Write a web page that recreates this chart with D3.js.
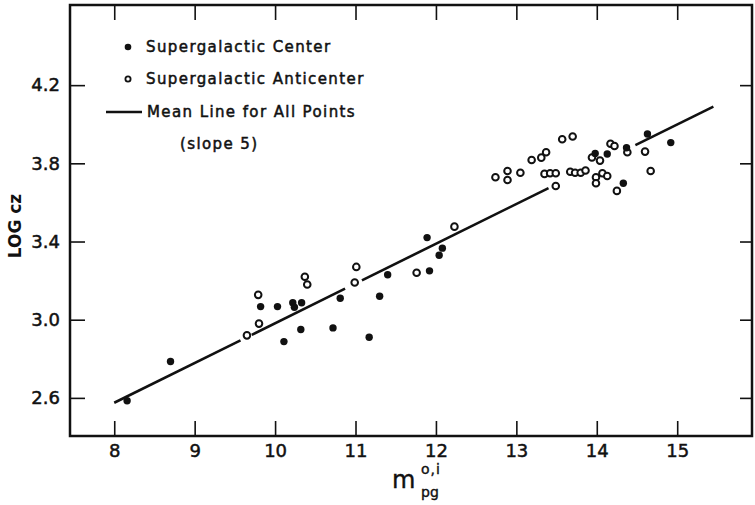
<!DOCTYPE html>
<html>
<head>
<meta charset="utf-8">
<script src="https://cdn.jsdelivr.net/npm/d3@7"></script>
<style>
  body { margin: 0; background: #fff; }
  svg { display: block; font-family: "DejaVu Sans", sans-serif; }
</style>
</head>
<body>
<div class="chart"></div>
<script>
// filled dots - supergalactic center  [m, log cz]
const centerPts = [
  [8.16, 2.585], [8.70, 2.786], [9.82, 3.067], [10.03, 3.067], [10.11, 2.888],
  [10.22, 3.087], [10.24, 3.064], [10.33, 3.087], [10.32, 2.95], [10.72, 2.958],
  [10.81, 3.11], [11.17, 2.91], [11.30, 3.12], [11.40, 3.23], [11.89, 3.42],
  [11.92, 3.25], [12.04, 3.33], [12.08, 3.366], [13.98, 3.85], [14.13, 3.848],
  [14.33, 3.698], [14.37, 3.88], [14.63, 3.95], [14.92, 3.906]
];
// open dots - supergalactic anticenter
const anticenterPts = [
  [9.65, 2.92], [9.79, 3.127], [9.80, 2.98], [10.37, 3.22], [10.40, 3.18],
  [10.99, 3.19], [11.01, 3.27], [11.76, 3.24], [12.23, 3.476],
  [12.74, 3.729], [12.89, 3.761], [12.89, 3.715], [13.05, 3.752], [13.19, 3.817],
  [13.31, 3.829], [13.37, 3.857], [13.57, 3.923], [13.70, 3.937], [13.35, 3.746],
  [13.42, 3.749], [13.49, 3.749], [13.49, 3.684], [13.67, 3.757], [13.73, 3.752],
  [13.80, 3.752], [13.86, 3.763], [13.94, 3.83], [14.04, 3.814], [14.17, 3.90],
  [14.22, 3.889], [14.38, 3.857], [13.99, 3.729], [13.99, 3.698], [14.07, 3.749],
  [14.13, 3.735], [14.25, 3.659], [14.60, 3.86], [14.67, 3.761]
];
// mean line (slope 5) end points and the breaks drawn in it
const meanLine = [[8.0, 2.575], [15.45, 4.09]];
const lineGaps = [[9.57, 9.71], [10.87, 11.08], [13.40, 14.48]];

const xTicks = [8, 9, 10, 11, 12, 13, 14, 15];
const yTicks = [2.6, 3.0, 3.4, 3.8, 4.2];

const width = 755, height = 505;
const frame = {left: 70, right: 752, top: 5, bottom: 436};

const x = d3.scaleLinear().domain([7.45, 15.93]).range([frame.left, frame.right]);
const y = d3.scaleLinear().domain([2.405, 4.61]).range([frame.bottom, frame.top]);

const svg = d3.select(".chart").append("svg")
    .attr("width", width)
    .attr("height", height)
    .attr("viewBox", [0, 0, width, height]);

const ink = "#111";

function styleAxis(g, size) {
  g.select(".domain").remove();
  g.selectAll(".tick line").attr("stroke", ink).attr("stroke-width", 1.6);
  g.selectAll(".tick text").attr("fill", ink).attr("font-size", size)
    .attr("font-family", "DejaVu Sans, sans-serif")
    .attr("stroke", ink).attr("stroke-width", 0.5);
}

// bottom
svg.append("g")
    .attr("transform", `translate(0,${frame.bottom})`)
    .call(d3.axisBottom(x).tickValues(xTicks).tickSizeInner(-15).tickSizeOuter(0)
      .tickPadding(8).tickFormat(d3.format("d")))
    .call(g => styleAxis(g, 18));
// top
svg.append("g")
    .attr("transform", `translate(0,${frame.top})`)
    .call(d3.axisTop(x).tickValues(xTicks).tickSizeInner(-15).tickSizeOuter(0).tickFormat(""))
    .call(g => styleAxis(g, 18));
// left
svg.append("g")
    .attr("transform", `translate(${frame.left},0)`)
    .call(d3.axisLeft(y).tickValues(yTicks).tickSizeInner(-15).tickSizeOuter(0)
      .tickPadding(10).tickFormat(d3.format(".1f")))
    .call(g => styleAxis(g, 18));
// right
svg.append("g")
    .attr("transform", `translate(${frame.right},0)`)
    .call(d3.axisRight(y).tickValues(yTicks).tickSizeInner(-12).tickSizeOuter(0).tickFormat(""))
    .call(g => styleAxis(g, 18));

svg.append("rect")
    .attr("x", frame.left).attr("y", frame.top)
    .attr("width", frame.right - frame.left)
    .attr("height", frame.bottom - frame.top)
    .attr("fill", "none")
    .attr("stroke", ink)
    .attr("stroke-width", 2.5);

// axis titles
svg.append("text")
    .attr("transform", "translate(21,226) rotate(-90)")
    .attr("text-anchor", "middle")
    .attr("font-size", 17)
    .attr("font-weight", "bold")
    .attr("fill", ink)
    .text("LOG cz");

const xt = svg.append("g").attr("fill", ink).attr("stroke", ink).attr("stroke-width", 0.4);
xt.append("text").attr("x", 392).attr("y", 488).attr("font-size", 24).text("m");
xt.append("text").attr("x", 421).attr("y", 474).attr("font-size", 14).attr("letter-spacing", 1).text("o,i");
xt.append("text").attr("x", 421).attr("y", 497).attr("font-size", 14).text("pg");

// mean line, broken into pieces
const lineFn = d3.line().x(d => x(d[0])).y(d => y(d[1]));
const slope = (meanLine[1][1] - meanLine[0][1]) / (meanLine[1][0] - meanLine[0][0]);
const at = m => [m, meanLine[0][1] + slope * (m - meanLine[0][0])];
const cuts = [meanLine[0][0], ...lineGaps.flat(), meanLine[1][0]];
const pieces = d3.range(0, cuts.length, 2).map(i => [at(cuts[i]), at(cuts[i + 1])]);

svg.append("g")
    .selectAll("path")
    .data(pieces)
    .join("path")
    .attr("d", lineFn)
    .attr("fill", "none")
    .attr("stroke", ink)
    .attr("stroke-width", 2.6)
    .attr("stroke-linecap", "butt");

// points
svg.append("g")
    .selectAll("circle")
    .data(anticenterPts)
    .join("circle")
    .attr("cx", d => x(d[0]))
    .attr("cy", d => y(d[1]))
    .attr("r", 3.3)
    .attr("fill", "#fff")
    .attr("stroke", ink)
    .attr("stroke-width", 2);

svg.append("g")
    .selectAll("circle")
    .data(centerPts)
    .join("circle")
    .attr("cx", d => x(d[0]))
    .attr("cy", d => y(d[1]))
    .attr("r", 3.7)
    .attr("fill", ink);

// legend
const lg = svg.append("g")
    .attr("fill", ink)
    .attr("font-size", 15)
    .attr("letter-spacing", 1.4);

lg.append("circle").attr("cx", 128).attr("cy", 47).attr("r", 3.3).attr("fill", ink);
lg.append("circle").attr("cx", 128).attr("cy", 79).attr("r", 2.6)
    .attr("fill", "#fff").attr("stroke", ink).attr("stroke-width", 1.8);
lg.append("line").attr("x1", 106).attr("x2", 142).attr("y1", 112).attr("y2", 112)
    .attr("stroke", ink).attr("stroke-width", 2.4);

const lt = lg.append("g").attr("stroke", ink).attr("stroke-width", 0.5);
lt.append("text").attr("x", 146).attr("y", 52).text("Supergalactic Center");
lt.append("text").attr("x", 146).attr("y", 84).text("Supergalactic Anticenter");
lt.append("text").attr("x", 147).attr("y", 117).text("Mean Line for All Points");
lt.append("text").attr("x", 180).attr("y", 149).text("(slope 5)");
</script>
</body>
</html>
